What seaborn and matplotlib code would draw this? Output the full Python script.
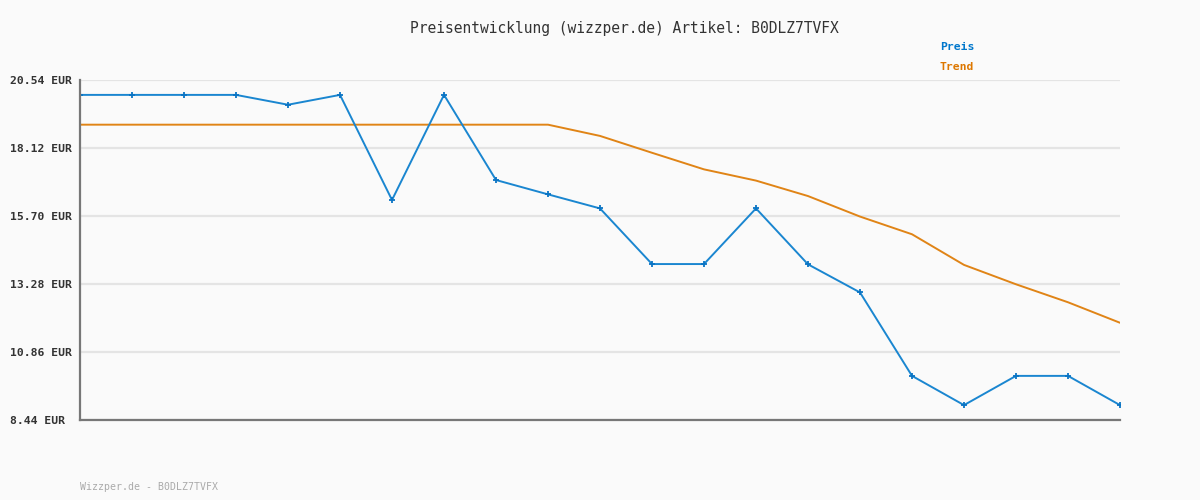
import matplotlib
matplotlib.use("Agg")
import matplotlib.pyplot as plt
import seaborn as sns
import pandas as pd
import numpy as np

# Data
preis = [20.01, 20.01, 20.01, 20.01, 19.66, 20.01, 16.27, 20.01, 16.98, 16.47,
         15.97, 13.99, 13.99, 15.97, 13.98, 12.98, 10.01, 8.97, 10.01, 10.01, 8.97]
trend = [18.95, 18.95, 18.95, 18.95, 18.95, 18.95, 18.95, 18.95, 18.95, 18.95,
         18.55, 17.95, 17.36, 16.96, 16.41, 15.68, 15.05, 13.96, 13.27, 12.63, 11.90]
y_ticks = [8.44, 10.86, 13.28, 15.70, 18.12, 20.54]
y_tick_labels = ["8.44 EUR", "10.86 EUR", "13.28 EUR", "15.70 EUR", "18.12 EUR", "20.54 EUR"]
title = "Preisentwicklung (wizzper.de) Artikel: B0DLZ7TVFX"
footer = "Wizzper.de - B0DLZ7TVFX"
series_names = ["Preis", "Trend"]

sns.set_theme(style="white")
plt.rcParams['font.family'] = ['DejaVu Sans Mono', 'DejaVu Sans']

bg = "#fafafa"
c_preis = "#1a86d0"
c_trend = "#e08416"

idx = np.arange(len(preis))
df = pd.DataFrame({"x": np.concatenate([idx, idx]),
                   "y": preis + trend,
                   "s": [series_names[0]] * len(preis) + [series_names[1]] * len(trend)})

fig = plt.figure(figsize=(12, 5), dpi=100, facecolor=bg)
ax = fig.add_axes([80/1200, 1 - 420/500, 1040/1200, 340/500])
ax.set_facecolor(bg)

for yt in y_ticks:
    ax.axhline(yt, color="#e4e4e4", lw=1.6, zorder=0)

sns.lineplot(data=df[df.s == "Trend"], x="x", y="y", color=c_trend, lw=1.4, ax=ax, zorder=2)
sns.lineplot(data=df[df.s == "Preis"], x="x", y="y", color=c_preis, lw=1.4, ax=ax,
             marker="+", markersize=5, markeredgewidth=1.3, markeredgecolor="#0a74c4", zorder=3)

ax.set_xlim(0, len(preis) - 1)
ax.set_ylim(y_ticks[0], y_ticks[-1])
ax.set_xticks([])
ax.set_yticks(y_ticks)
ax.set_yticklabels(y_tick_labels, ha="left", fontsize=8.2, fontweight="bold", color="#333333")
ax.tick_params(axis="y", length=0, pad=50.4)
ax.set_xlabel("")
ax.set_ylabel("")

for s in ["top", "right"]:
    ax.spines[s].set_visible(False)
for s in ["left", "bottom"]:
    ax.spines[s].set_color("#777777")
    ax.spines[s].set_linewidth(1.6)
    ax.spines[s].set_zorder(4)

fig.text(624/1200, 1 - 28/500, title, ha="center", va="center", fontsize=10.5, color="#333333")
fig.text(940/1200, 1 - 47/500, series_names[0], ha="left", va="center", fontsize=8.2,
         fontweight="bold", color="#0077cc")
fig.text(940/1200, 1 - 67/500, series_names[1], ha="left", va="center", fontsize=8.2,
         fontweight="bold", color="#dd7700")
fig.text(80/1200, 1 - 487/500, footer, ha="left", va="center", fontsize=7.1, color="#aaaaaa")

fig.savefig("out.png", dpi=100, facecolor=bg)
